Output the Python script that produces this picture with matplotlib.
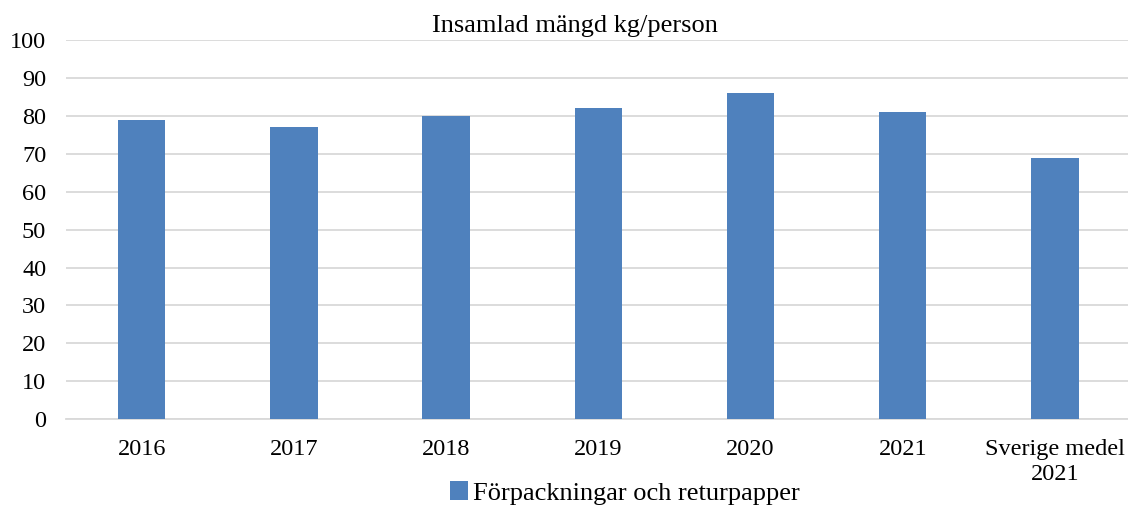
import matplotlib
matplotlib.use("Agg")
import matplotlib.pyplot as plt
import numpy as np

plt.rcParams['font.family'] = ['Liberation Serif', 'DejaVu Serif']

categories = ["2016", "2017", "2018", "2019", "2020", "2021", "Sverige medel\n2021"]
values = [79, 77, 80, 82, 86, 81, 69]
series_name = "Förpackningar och returpapper"
title = "Insamlad mängd kg/person"

fig = plt.figure(figsize=(11.28, 5.08), dpi=100)
ax = fig.add_axes([0.0582, 0.175, 0.9445, 0.746])

x = np.arange(len(categories))
ax.bar(x, values, width=0.312, color="#4F81BD", label=series_name, zorder=3)

ax.set_xlim(-0.5, len(categories) - 0.5)
ax.set_ylim(0, 100)
ax.set_yticks(range(0, 101, 10))
ax.set_xticks(x)
ax.set_xticklabels(categories, linespacing=1.3)
ax.tick_params(axis="both", length=0, labelsize=17.5)
ax.tick_params(axis="x", pad=14)
ax.tick_params(axis="y", pad=14)
ax.grid(axis="y", color="#D9D9D9", linewidth=1.3, zorder=0)
for s in ["top", "right", "left"]:
	ax.spines[s].set_visible(False)
ax.spines["bottom"].set_color("#D9D9D9")
ax.spines["bottom"].set_linewidth(1.3)

ax.set_title(title, fontsize=19, pad=6, x=0.478)

fig.legend(loc="lower center", bbox_to_anchor=(0.554, -0.04), frameon=False,
		fontsize=19, handlelength=0.7, handleheight=0.7, handletextpad=0.2)

fig.savefig("out.png", dpi=100)
